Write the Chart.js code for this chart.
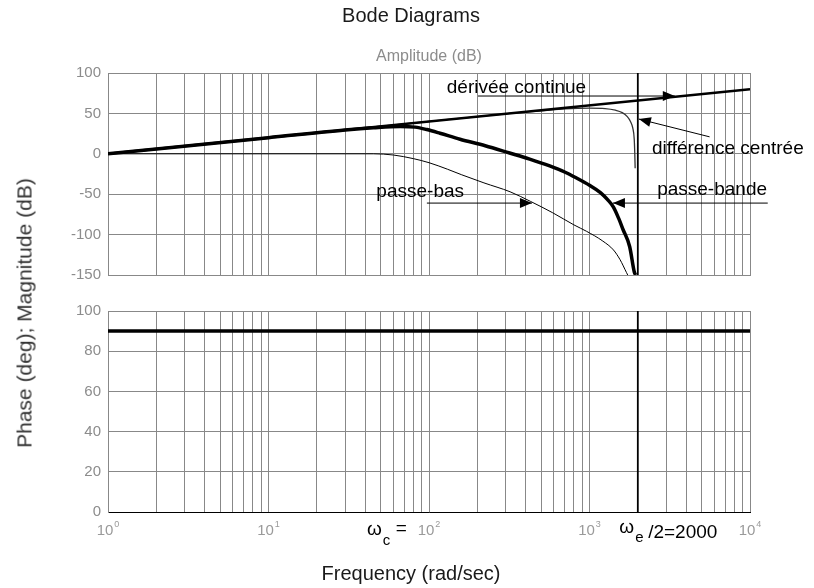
<!DOCTYPE html>
<html>
<head>
<meta charset="utf-8">
<script src="https://cdn.jsdelivr.net/npm/chart.js@4/dist/chart.umd.min.js"></script>
<style>
  body { margin: 0; background: #fff; width: 814px; height: 588px; position: relative; overflow: hidden;
         font-family: "Liberation Sans", Arial, sans-serif; }
  canvas { position: absolute; left: 0; }
  #mag { top: 0; }
  #phase { top: 295px; }
  #ytitle { position: absolute; left: 24px; top: 313px; transform: translate(-50%, -50%) rotate(-90deg);
            font-size: 21px; line-height: 1; color: #333; white-space: nowrap; }
</style>
</head>
<body>
<canvas id="mag" width="814" height="295"></canvas>
<canvas id="phase" width="814" height="293"></canvas>
<div id="ytitle">Phase (deg); Magnitude (dB)</div>
<script>
// axes
var decades = [1, 10, 100, 1000, 10000];
var decadeExp = ["0", "1", "2", "3", "4"];
var minorSteps = [1, 2, 3, 4, 5, 6, 7, 8, 9];
var magTicks = [-150, -100, -50, 0, 50, 100];
var phaseTicks = [0, 20, 40, 60, 80, 100];

// magnitude curves (rad/s, dB)
var derivFreq = [1, 10000];
var derivDb = [0, 80];

var bandeFreq = [1, 10, 30, 45, 66, 82, 97, 117, 156, 224, 318, 424, 565, 700, 830, 1000, 1170, 1300, 1410, 1520, 1620, 1780, 1900, 1935];
var bandeDb = [0, 20, 29.5, 32.2, 33.8, 33, 30, 25.5, 18, 10, 1, -6.5, -15, -22.5, -30, -39, -48, -57, -66, -80, -94, -115, -146, -150];

var basFreq = [1, 45, 60, 80, 100, 130, 160, 220, 320, 430, 590, 800, 960, 1210, 1410, 1550, 1700, 1730];
var basDb = [0, 0, -1.5, -6, -11, -19, -26, -36, -47, -59, -73, -88, -96, -108, -119, -131, -147, -150];

var diffFreq = [1, 100, 300, 500, 700, 1000, 1250, 1450, 1600, 1720, 1800, 1860, 1900, 1915, 1925];
var diffDb = [0, 40, 49.5, 53, 55.5, 56.5, 56, 54, 51, 46, 40, 32, 18, 0, -18];

// phase (deg)
var phaseFreq = [1, 10000];
var phaseDeg = [90, 90];

var halfSampling = 2000;
var cutoff = 100;

var FONT = '"Liberation Sans", Arial, sans-serif';
var GRID = "#888888";

var gridFreq = [];
decades.slice(0, -1).forEach(function (d) {
  minorSteps.forEach(function (m) { gridFreq.push(d * m); });
});
gridFreq.push(decades[decades.length - 1]);

function pts(xs, ys) {
  return xs.map(function (x, i) { return { x: x, y: ys[i] }; });
}

function line(data, width, color) {
  return { data: data, borderColor: color || "#000", borderWidth: width, pointRadius: 0,
           cubicInterpolationMode: "monotone", borderJoinStyle: "round", fill: false };
}

function xScale(borderColor) {
  return {
    type: "logarithmic", min: 1, max: 10000,
    afterBuildTicks: function (s) { s.ticks = gridFreq.map(function (v) { return { value: v }; }); },
    afterFit: function (s) { s.height = 0; },
    ticks: { display: false },
    grid: { color: GRID, drawTicks: false },
    border: { color: borderColor }
  };
}

function yScale(ticks) {
  return {
    type: "linear", min: ticks[0], max: ticks[ticks.length - 1],
    afterBuildTicks: function (s) { s.ticks = ticks.map(function (v) { return { value: v }; }); },
    afterFit: function (s) { s.width = 108; },
    ticks: { color: "#8c8c8c", font: { family: FONT, size: 15 }, padding: 7 },
    grid: { color: GRID, drawTicks: false },
    border: { color: GRID }
  };
}

function arrow(ctx, x1, y1, x2, y2) {
  ctx.beginPath();
  ctx.moveTo(x1, y1);
  ctx.lineTo(x2, y2);
  ctx.stroke();
  var a = Math.atan2(y2 - y1, x2 - x1), L = 12, W = 5;
  ctx.beginPath();
  ctx.moveTo(x2, y2);
  ctx.lineTo(x2 - L * Math.cos(a) + W * Math.sin(a), y2 - L * Math.sin(a) - W * Math.cos(a));
  ctx.lineTo(x2 - L * Math.cos(a) - W * Math.sin(a), y2 - L * Math.sin(a) + W * Math.cos(a));
  ctx.closePath();
  ctx.fill();
}

var notes = [
  { text: "dérivée continue", at: [129, 75], from: [202, 71.5], to: [3400, 71.5] },
  { text: "différence centrée", at: [2450, 0], from: [5600, 21], to: [2030, 43] },
  { text: "passe-bas", at: [47, -53.5], from: [97, -61], to: [438, -61] },
  { text: "passe-bande", at: [2640, -51], from: [12900, -61], to: [1400, -61] }
];

var magDecor = {
  id: "magDecor",
  afterDatasetsDraw: function (chart) {
    var ctx = chart.ctx, x = chart.scales.x, y = chart.scales.y, a = chart.chartArea;
    ctx.save();
    ctx.fillStyle = "#000";
    ctx.strokeStyle = "#000";
    ctx.lineWidth = 1;
    ctx.font = "19px " + FONT;
    ctx.textBaseline = "alphabetic";
    ctx.textAlign = "left";
    notes.forEach(function (n) {
      ctx.fillText(n.text, x.getPixelForValue(n.at[0]), y.getPixelForValue(n.at[1]));
      arrow(ctx, x.getPixelForValue(n.from[0]), y.getPixelForValue(n.from[1]),
                 x.getPixelForValue(n.to[0]), y.getPixelForValue(n.to[1]));
    });
    ctx.textAlign = "center";
    ctx.fillStyle = "#1a1a1a";
    ctx.font = "20px " + FONT;
    ctx.fillText("Bode Diagrams", 411, 22);
    ctx.fillStyle = "#8c8c8c";
    ctx.font = "16px " + FONT;
    ctx.fillText("Amplitude (dB)", (a.left + a.right) / 2, 61);
    ctx.restore();
  }
};

var phaseDecor = {
  id: "phaseDecor",
  afterDraw: function (chart) {
    var ctx = chart.ctx, x = chart.scales.x, a = chart.chartArea;
    var base = a.bottom + 23;
    ctx.save();
    ctx.textBaseline = "alphabetic";
    ctx.textAlign = "left";
    ctx.fillStyle = "#9a9a9a";
    decades.forEach(function (d, i) {
      ctx.font = "15px " + FONT;
      var w1 = ctx.measureText("10").width;
      ctx.font = "9px " + FONT;
      var w2 = ctx.measureText(decadeExp[i]).width;
      var left = x.getPixelForValue(d) - (w1 + w2 + 1) / 2;
      ctx.font = "15px " + FONT;
      ctx.fillText("10", left, base);
      ctx.font = "9px " + FONT;
      ctx.fillText(decadeExp[i], left + w1 + 1, base - 8);
    });

    ctx.fillStyle = "#000";
    var xc = x.getPixelForValue(cutoff) - 62;
    ctx.font = "19px " + FONT;
    ctx.fillText("\u03c9", xc, base);
    var wo = ctx.measureText("\u03c9").width;
    ctx.font = "15px " + FONT;
    ctx.fillText("c", xc + wo + 1, base + 10);
    ctx.font = "19px " + FONT;
    ctx.fillText("=", xc + wo + 14, base - 1);

    var xe = x.getPixelForValue(halfSampling) - 18.5;
    ctx.font = "19px " + FONT;
    ctx.fillText("\u03c9", xe, base - 2);
    ctx.font = "15px " + FONT;
    ctx.fillText("e", xe + wo + 1, base + 7);
    ctx.font = "19px " + FONT;
    ctx.fillText("/2=2000", xe + wo + 14, base + 3);

    ctx.textAlign = "center";
    ctx.font = "20px " + FONT;
    ctx.fillStyle = "#1a1a1a";
    ctx.fillText("Frequency (rad/sec)", 411, 285);
    ctx.restore();
  }
};

var common = {
  responsive: false,
  animation: false,
  events: [],
  plugins: { legend: { display: false }, tooltip: { enabled: false }, title: { display: false } }
};

new Chart(document.getElementById("mag").getContext("2d"), {
  type: "line",
  data: {
    datasets: [
      line(pts(bandeFreq, bandeDb), 3.5),
      line(pts(derivFreq, derivDb), 2.5),
      line(pts(basFreq, basDb), 1),
      line(pts(diffFreq, diffDb), 1.3, "#333"),
      line([{ x: halfSampling, y: magTicks[0] }, { x: halfSampling, y: magTicks[magTicks.length - 1] }], 1.8)
    ]
  },
  options: Object.assign({}, common, {
    layout: { padding: { left: 0, right: 64, top: 73, bottom: 20 } },
    scales: { x: xScale(GRID), y: yScale(magTicks) }
  }),
  plugins: [magDecor]
});

new Chart(document.getElementById("phase").getContext("2d"), {
  type: "line",
  data: {
    datasets: [
      line(pts(phaseFreq, phaseDeg), 3.5),
      line([{ x: halfSampling, y: phaseTicks[0] }, { x: halfSampling, y: phaseTicks[phaseTicks.length - 1] }], 1.8)
    ]
  },
  options: Object.assign({}, common, {
    layout: { padding: { left: 0, right: 64, top: 15, bottom: 76 } },
    scales: { x: xScale("#000"), y: yScale(phaseTicks) }
  }),
  plugins: [phaseDecor]
});
</script>
</body>
</html>
